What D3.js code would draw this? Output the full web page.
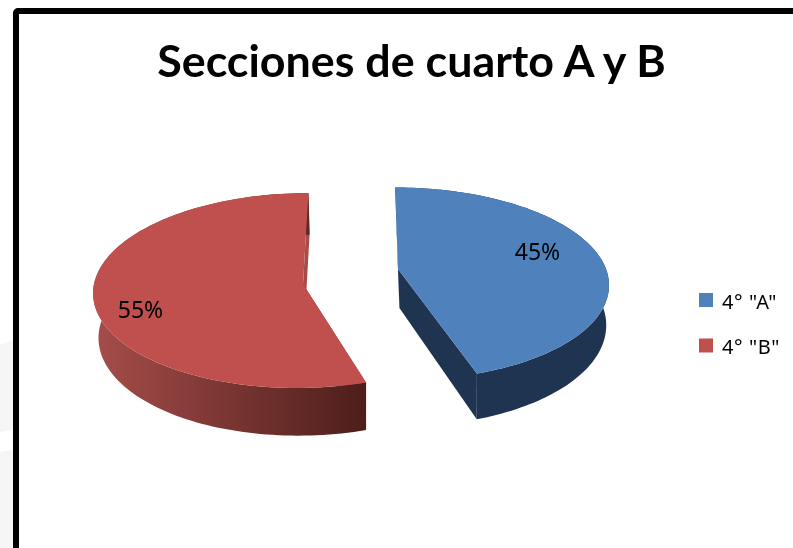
<!DOCTYPE html>
<html>
<head>
<meta charset="utf-8">
<script src="https://cdn.jsdelivr.net/npm/d3@7"></script>
<style>
  html, body { margin: 0; padding: 0; background: #fff; overflow: hidden; }
  svg { display: block; filter: blur(0.4px); }
  text { fill: #000; }
</style>
</head>
<body>
<svg id="chart" width="793" height="548"></svg>
<script>
var titleText = "Secciones de cuarto A y B";
var categories = ['4° "A"', '4° "B"'];
var shares = [45, 55];
var shareLabels = ["45%", "55%"];
var topColors = ["#4f81bd", "#c0504d"];
var sideLeftColors = ["#1f3450", "#a64d4a"];
var sideRightColors = ["#1f3450", "#4d1e1b"];

// each slice is drawn with its own perspective, they are pulled apart
var shapes = [
  { vx: 398, vy: 269, R: 208, Ry: 94, k: 0.153, shear: 0.035, depth: 39, x0: 470, lx: 537.5, ly: 252 },
  { vx: 303, vy: 284, R: 209, Ry: 97, k: 0.067, shear: -0.06, depth: 44.5, x0: 365, lx: 140.5, ly: 310 }
];

var svg = d3.select("#chart");

// faint watermark behind the frame
svg.append("path")
  .attr("d", "M0,345L13,340L13,430L0,432Z M0,452L13,450L13,548L0,548Z")
  .attr("fill", "#f6f6f6");

svg.append("rect")
  .attr("x", 16).attr("y", 11)
  .attr("width", 800).attr("height", 560)
  .attr("rx", 2)
  .attr("fill", "#fff")
  .attr("stroke", "#000")
  .attr("stroke-width", 6);

svg.append("text")
  .attr("x", 411.5).attr("y", 77)
  .attr("text-anchor", "middle")
  .attr("font-family", "Lato")
  .attr("font-weight", 700)
  .attr("font-size", 44.8)
  .text(titleText);

var pie = d3.pie().sort(null).value(function(d){ return d; });
var arcs = pie(shares);

function topPoint(sh, a, r){
  var u = r * Math.sin(a), v = -r * Math.cos(a);
  var s = 1 / (1 - sh.k * v);
  var y = sh.vy + sh.Ry * v * s;
  var x = sh.vx + sh.R * u * s + sh.shear * (y - sh.vy);
  return [x, y, s];
}

function bottomPoint(sh, a, r){
  var p = topPoint(sh, a, r);
  return [p[0] + (sh.x0 - p[0]) * 0.02, p[1] + sh.depth * p[2]];
}

var line = d3.line();
var defs = svg.append("defs");

arcs.forEach(function(arc, i){
  var sh = shapes[i];
  var steps = d3.range(0, 121).map(function(j){
    return arc.startAngle + (arc.endAngle - arc.startAngle) * j / 120;
  });

  var grad = defs.append("linearGradient")
    .attr("id", "side" + i)
    .attr("gradientUnits", "userSpaceOnUse")
    .attr("x1", sh.vx - sh.R).attr("y1", 0)
    .attr("x2", i == 1 ? sh.x0 : sh.vx + sh.R).attr("y2", 0);
  grad.append("stop").attr("offset", 0).attr("stop-color", sideLeftColors[i]);
  grad.append("stop").attr("offset", 1).attr("stop-color", sideRightColors[i]);

  var g = svg.append("g").attr("class", "slice");

  // cut faces
  [arc.startAngle, arc.endAngle].forEach(function(a){
    g.append("path")
      .attr("d", line([topPoint(sh, a, 0), topPoint(sh, a, 1), bottomPoint(sh, a, 1), bottomPoint(sh, a, 0)]) + "Z")
      .attr("fill", sideLeftColors[i]);
  });

  // outer wall
  var wall = steps.map(function(a){ return topPoint(sh, a, 1).slice(0, 2); })
    .concat(steps.slice().reverse().map(function(a){ return bottomPoint(sh, a, 1); }));
  g.append("path")
    .attr("d", line(wall) + "Z")
    .attr("fill", "url(#side" + i + ")");

  // top face
  var face = [topPoint(sh, 0, 0).slice(0, 2)]
    .concat(steps.map(function(a){ return topPoint(sh, a, 1).slice(0, 2); }));
  g.append("path")
    .attr("d", line(face) + "Z")
    .attr("fill", topColors[i]);

  svg.append("text")
    .attr("x", sh.lx).attr("y", sh.ly + 8)
    .attr("text-anchor", "middle")
    .attr("font-family", "Noto Sans")
    .attr("font-size", 23)
    .text(shareLabels[i]);
});

// legend
var yLegend = d3.scalePoint().domain(categories).range([300, 345.5]);
var legend = svg.selectAll("g.legend").data(categories).enter().append("g")
  .attr("class", "legend")
  .attr("transform", function(d){ return "translate(699," + yLegend(d) + ")"; });

legend.append("rect")
  .attr("x", 0).attr("y", -7)
  .attr("width", 14).attr("height", 14)
  .attr("fill", function(d, i){ return topColors[i]; });

legend.append("text")
  .attr("x", 23).attr("y", 8.5)
  .attr("font-family", "Noto Sans")
  .attr("font-size", 20)
  .attr("letter-spacing", 0.6)
  .text(function(d){ return d; });
</script>
</body>
</html>
